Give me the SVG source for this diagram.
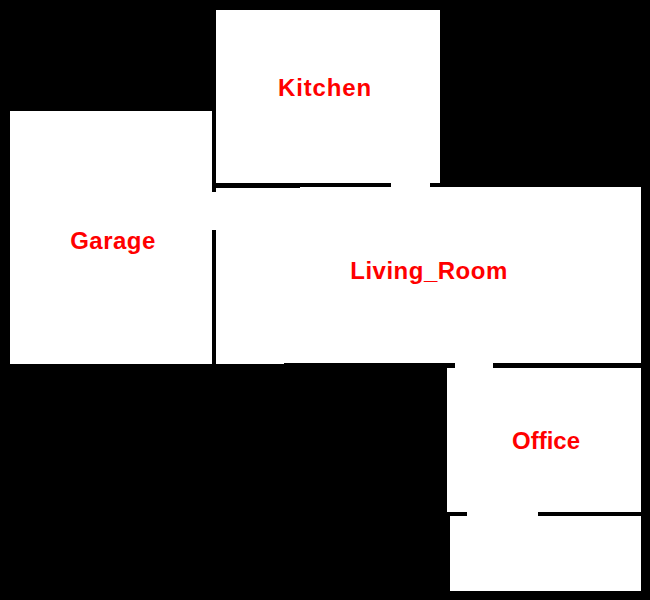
<svg xmlns="http://www.w3.org/2000/svg" width="650" height="600" viewBox="0 0 650 600">
<style>
.room{fill:#fff}
.door{fill:#fff}
.wall{fill:#000}
.label{font-family:"Liberation Sans",Arial,sans-serif;font-weight:bold;font-size:24px;fill:#f00;text-anchor:middle}
</style>
<rect width="650" height="600" fill="#000"/>
<g id="kitchen"><rect class="room" x="216" y="10" width="224" height="173"/><text class="label" x="325" y="96" letter-spacing="0.85">Kitchen</text></g>
<g id="garage"><rect class="room" x="10" y="111" width="202" height="253"/><text class="label" x="113" y="249" letter-spacing="0.5">Garage</text></g>
<g id="living_room"><rect class="room" x="216" y="187" width="425" height="176"/><rect class="room" x="216" y="363" width="68" height="1"/><rect class="wall" x="216" y="187" width="84" height="1"/><text class="label" x="429" y="279" letter-spacing="0.5">Living_Room</text></g>
<g id="office"><rect class="room" x="447" y="368" width="194" height="144"/><text class="label" x="546" y="449">Office</text></g>
<g id="unnamed_room"><rect class="room" x="450" y="516" width="191" height="75"/></g>
<g id="connectors">
<rect class="door" x="391" y="183" width="39" height="4"/>
<rect class="door" x="212" y="192" width="4" height="38"/>
<rect class="door" x="455" y="363" width="38" height="5"/>
<rect class="door" x="467" y="512" width="71" height="4"/>
</g>
</svg>
